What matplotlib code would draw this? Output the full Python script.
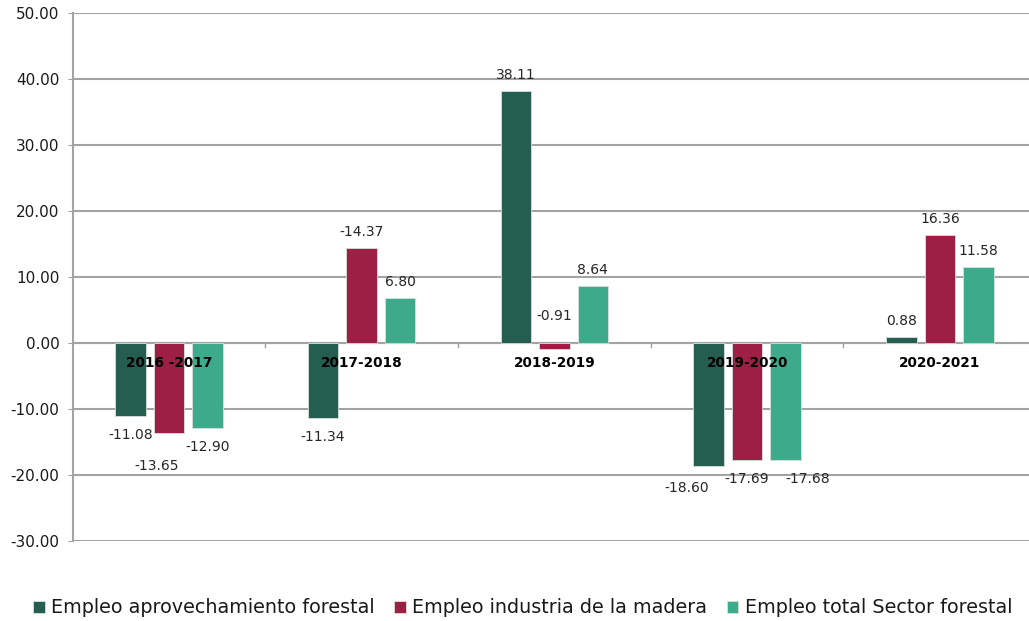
import numpy as np
import matplotlib.pyplot as plt

periodos = ["2016 -2017", "2017-2018", "2018-2019", "2019-2020", "2020-2021"]
series = ["Empleo aprovechamiento forestal", "Empleo industria de la madera",
          "Empleo total Sector forestal"]
aprovechamiento = [-11.08, -11.34, 38.11, -18.60, 0.88]
industria = [-13.65, 14.37, -0.91, -17.69, 16.36]
total = [-12.90, 6.80, 8.64, -17.68, 11.58]
# el informe original publica el dato de 2017-2018 de industria con signo negativo
etiquetas_industria = ["-13.65", "-14.37", "-0.91", "-17.69", "16.36"]

colores = ["#255d50", "#9e1f45", "#3daa8c"]

# desplazamientos (px) de algunas etiquetas para que no se encimen
ajustes = {(1, 0): (-12, -14), (0, 3): (-22, -3), (2, 3): (22, 0)}

plt.rcParams["font.family"] = ["DejaVu Sans"]

fig = plt.figure(figsize=(10.29, 6.21), dpi=100)
ax = fig.add_axes([0.0705, 0.129, 0.9365, 0.850])

x = np.arange(len(periodos))
ancho = 0.158
paso = 0.20
datos = [aprovechamiento, industria, total]
etiquetas = [[f"{v:.2f}" for v in aprovechamiento], etiquetas_industria,
             [f"{v:.2f}" for v in total]]

for i, (vals, col) in enumerate(zip(datos, colores)):
    pos = x + (i - 1) * paso
    ax.bar(pos, vals, width=ancho, color=col, edgecolor="#d8e0dc",
           linewidth=0.6, label=series[i], zorder=3)
    for j, (px, v, txt) in enumerate(zip(pos, vals, etiquetas[i])):
        dx, dy = ajustes.get((i, j), (0, 0))
        if v >= 0:
            base, oy = v, 16
        elif v > -1:
            base, oy = 0, 27
        else:
            base, oy = v, -19
        ax.annotate(txt, (px, base), xytext=((dx) * 0.72, (oy + dy) * 0.72),
                    textcoords="offset points", ha="center", va="center",
                    fontsize=10, color="#262626", zorder=6)

# nombres de periodo sobre la linea del cero
for xi, p in zip(x, periodos):
    ax.text(xi, -3.0, p, ha="center", va="center", fontsize=9.8,
            fontweight="bold", color="black", zorder=5)

ax.set_xlim(-0.5, len(periodos) - 0.5)
ax.set_ylim(-30, 50)
ax.set_yticks(np.arange(-30, 51, 10))
ax.set_yticklabels([f"{t:.2f}" for t in np.arange(-30, 51, 10)])
ax.tick_params(axis="y", length=3.5, color="#a0a0a0", labelsize=11, pad=6,
               labelcolor="#1a1a1a")
ax.set_xticks([])
for xt in x[:-1] + 0.5:
    ax.plot([xt, xt], [0, -0.6], color="#a0a0a0", lw=1, zorder=2)

ax.grid(axis="y", color="#a3a3a3", lw=1.5, zorder=0)
ax.axhline(0, color="#a3a3a3", lw=1.5, zorder=2)
for s in ["top", "right", "bottom"]:
    ax.spines[s].set_visible(False)
ax.spines["left"].set_color("#a3a3a3")
ax.spines["left"].set_linewidth(1.5)

fig.legend(loc="lower center", bbox_to_anchor=(0.508, -0.022), ncol=3,
           frameon=False, fontsize=13.8, handlelength=0.6, handleheight=0.6,
           handletextpad=0.35, columnspacing=1.0, labelcolor="#1a1a1a")

fig.savefig("out.png", dpi=100)
